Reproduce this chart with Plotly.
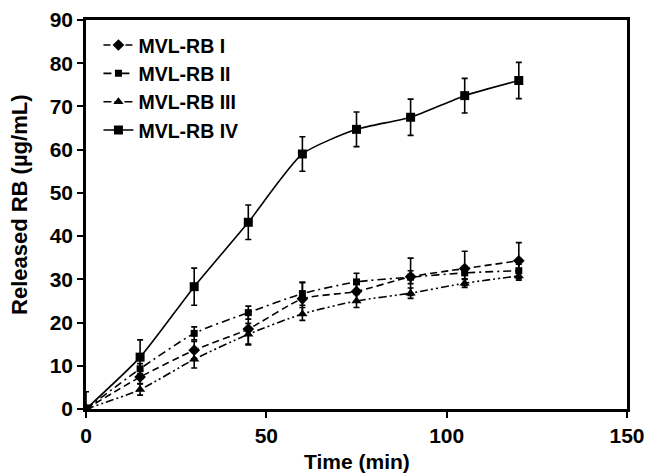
import plotly.graph_objects as go

time_min = [0, 15, 30, 45, 60, 75, 90, 105, 120]

rb1 = [0, 7.4, 13.6, 18.5, 25.5, 27.2, 30.6, 32.5, 34.3]
rb1_err = [0, 1.5, 2.0, 3.5, 3.7, 2.5, 4.3, 4.0, 4.2]

rb2 = [0, 9.3, 17.5, 22.3, 26.7, 29.4, 30.5, 31.5, 32.0]
rb2_err = [0, 1.2, 1.5, 1.5, 2.7, 2.0, 1.5, 1.5, 1.5]

rb3 = [0, 4.5, 11.5, 17.3, 22.0, 25.0, 26.8, 29.1, 30.8]
rb3_err = [0, 1.3, 2.0, 2.5, 1.5, 1.5, 1.2, 1.0, 1.0]

rb4 = [0, 12.0, 28.3, 43.2, 59.0, 64.7, 67.5, 72.5, 76.0]
rb4_err = [4.0, 4.0, 4.3, 4.0, 4.0, 4.0, 4.2, 4.0, 4.2]

names = ["MVL-RB I", "MVL-RB II", "MVL-RB III", "MVL-RB IV"]
values = [rb1, rb2, rb3, rb4]
errors = [rb1_err, rb2_err, rb3_err, rb4_err]
symbols = ["diamond", "square", "triangle-up", "square"]
msizes = [9, 7, 9, 9]
dashes = ["7px,4px", "8px,4px,2px,4px", "8px,3px,2px,3px,2px,3px", "solid"]

FONT = "Liberation Sans"

fig = go.Figure()
for i in range(4):
    fig.add_trace(go.Scatter(
        x=time_min, y=values[i], name=names[i], mode="lines+markers",
        line=dict(color="black", width=1.6, dash=dashes[i], shape="spline", smoothing=0.6),
        marker=dict(symbol=symbols[i], size=msizes[i], color="black"),
        error_y=dict(type="data", array=errors[i], visible=True, color="black",
                     thickness=1.6, width=3),
    ))

fig.update_layout(
    width=646, height=475,
    margin=dict(l=86, r=19, t=20, b=66),
    paper_bgcolor="white", plot_bgcolor="white",
    font=dict(family=FONT, color="black", size=21),
    showlegend=True,
    legend=dict(x=0.023, y=0.985, xanchor="left", yanchor="top",
                font=dict(family=FONT, size=19.5, weight="bold"),
                bgcolor="rgba(0,0,0,0)", itemwidth=30),
    xaxis=dict(range=[0, 150], tickvals=[0, 50, 100, 150], ticks="outside", ticklen=6,
               tickwidth=2, tickcolor="black", automargin=False,
               showline=True, linewidth=2.5, linecolor="black", mirror=True,
               showgrid=False, zeroline=False,
               tickfont=dict(family=FONT, size=21, weight="bold")),
    yaxis=dict(range=[0, 90], tickvals=list(range(0, 91, 10)), ticks="outside", ticklen=6,
               tickwidth=2, tickcolor="black", automargin=False,
               showline=True, linewidth=2.5, linecolor="black", mirror=True,
               showgrid=False, zeroline=False,
               tickfont=dict(family=FONT, size=21, weight="bold")),
    annotations=[
        dict(text="Time (min)", xref="paper", yref="paper", x=0.5, y=-0.136,
             xanchor="center", yanchor="middle", showarrow=False,
             font=dict(family=FONT, size=21, weight="bold")),
        dict(text="Released RB (µg/mL)", xref="paper", yref="paper", x=-0.122, y=0.527,
             xanchor="center", yanchor="middle", showarrow=False, textangle=-90,
             font=dict(family=FONT, size=22, weight="bold")),
    ],
)

fig.write_html("out.html", config={"displayModeBar": False},
               post_script="document.body.style.margin='0';document.body.style.overflow='hidden';")
